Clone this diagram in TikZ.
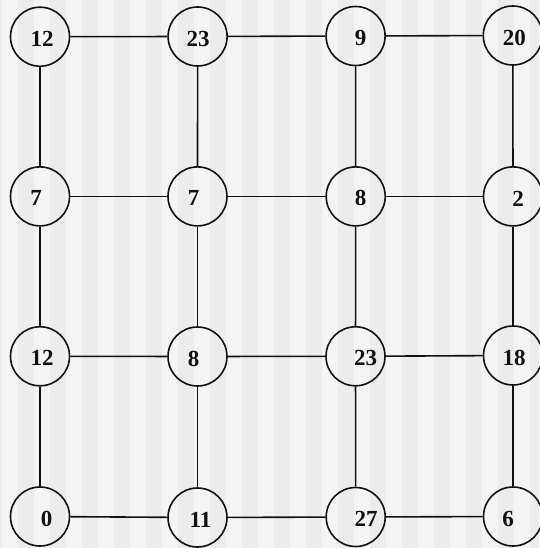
\documentclass[tikz,border=0pt]{standalone}
\usepackage{fontspec}
\setmainfont{Liberation Serif}
\definecolor{stripeA}{HTML}{F4F4F4}
\definecolor{stripeB}{HTML}{ECECEC}
\definecolor{ink}{HTML}{111111}
\tikzset{
  vert/.style={circle, draw=ink, line width=1.6pt, minimum size=59pt, inner sep=0pt},
  lab/.style={font=\fontsize{23}{23}\selectfont\bfseries, text=ink, inner sep=0pt, yshift=-2pt},
  edge/.style={draw=ink, line width=1.6pt}
}
\begin{document}
\begin{tikzpicture}[x=1pt,y=-1pt]
\useasboundingbox (0,0) rectangle (539,548);
\fill[stripeA] (0,0) rectangle (539,548);
\begin{scope}
\clip (0,0) rectangle (539,548);
\foreach \i in {0,...,17} \fill[stripeB] (\i*32-14,0) rectangle ++(16,548);
\end{scope}
% row 1
\node[vert, label={[lab,xshift=2pt]center:12}] (a1) at (40,36.7) {};
\node[vert, label={[lab,xshift=0.5pt]center:23}] (a2) at (197.6,36.5) {};
\node[vert, label={[lab,xshift=5pt]center:9}] (a3) at (355.6,36) {};
\node[vert, label={[lab,xshift=1.5pt]center:20}] (a4) at (512.8,35.5) {};
% row 2
\node[vert, label={[lab,xshift=-4pt]center:7}] (b1) at (40,196.4) {};
\node[vert, label={[lab,xshift=-4pt]center:7}] (b2) at (197.5,196.4) {};
\node[vert, label={[lab,xshift=5pt]center:8}] (b3) at (355.7,196.4) {};
\node[vert, label={[lab,xshift=5pt]center:2}] (b4) at (513,196.4) {};
% row 3
\node[vert, label={[lab,xshift=2pt]center:12}] (c1) at (40,356.3) {};
\node[vert, label={[lab,xshift=-4pt]center:8}] (c2) at (197.5,356.5) {};
\node[vert, label={[lab,xshift=10pt]center:23}] (c3) at (355.5,356.3) {};
\node[vert, label={[lab,xshift=1pt]center:18}] (c4) at (513,355.5) {};
% row 4
\node[vert, label={[lab,xshift=6.5pt]center:0}] (d1) at (40,516.5) {};
\node[vert, label={[lab,xshift=3pt]center:11}] (d2) at (197.5,517.5) {};
\node[vert, label={[lab,xshift=10.5pt]center:27}] (d3) at (355.7,517) {};
\node[vert, label={[lab,xshift=-5pt]center:6}] (d4) at (513,516.5) {};
% horizontal edges
\draw[edge] (a1) -- (a2); \draw[edge] (a2) -- (a3); \draw[edge] (a3) -- (a4);
\draw[edge] (b1) -- (b2); \draw[edge] (b2) -- (b3); \draw[edge] (b3) -- (b4);
\draw[edge] (c1) -- (c2); \draw[edge] (c2) -- (c3); \draw[edge] (c3) -- (c4);
\draw[edge] (d1) -- (d2); \draw[edge] (d2) -- (d3); \draw[edge] (d3) -- (d4);
% vertical edges
\draw[edge] (a1) -- (b1); \draw[edge] (b1) -- (c1); \draw[edge] (c1) -- (d1);
\draw[edge] (a2) -- (b2); \draw[edge] (b2) -- (c2); \draw[edge] (c2) -- (d2);
\draw[edge] (a3) -- (b3); \draw[edge] (b3) -- (c3); \draw[edge] (c3) -- (d3);
\draw[edge] (a4) -- (b4); \draw[edge] (b4) -- (c4); \draw[edge] (c4) -- (d4);
\end{tikzpicture}
\end{document}
